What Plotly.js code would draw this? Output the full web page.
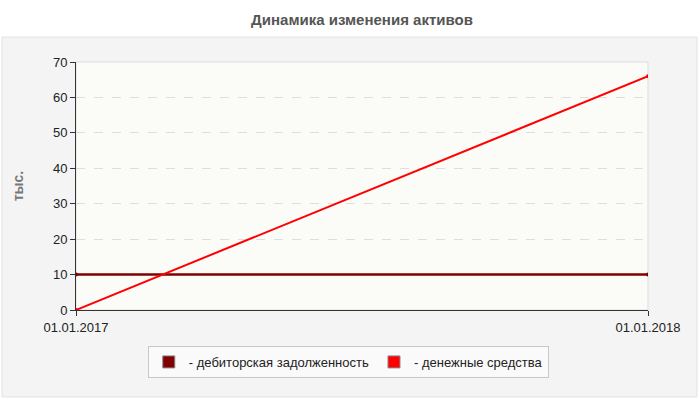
<!DOCTYPE html>
<html>
<head>
<meta charset="utf-8">
<script src="https://cdn.plot.ly/plotly-3.0.1.min.js"></script>
<style>
  body { margin: 0; background: #fff; }
  #chart { width: 700px; height: 400px; }
</style>
</head>
<body>
<div id="chart"></div>
<script>
var dates = ['2017-01-01', '2018-01-01'];
var receivables = [10, 10];
var cash = [0, 66];
var seriesNames = ['- дебиторская задолженность', '- денежные средства'];
var seriesColors = ['#800000', '#ff0000'];

var traceRec = {
    x: dates, y: receivables, mode: 'lines+markers', showlegend: false,
    line: {color: seriesColors[0], width: 2.5},
    marker: {color: seriesColors[0], size: 4}
};
var traceCash = {
    x: dates, y: cash, mode: 'lines+markers', showlegend: false,
    line: {color: seriesColors[1], width: 2},
    marker: {color: seriesColors[1], size: 4}
};
// legend only entries (filled boxes)
var legRec = {x: [null], y: [null], type: 'bar', name: seriesNames[0],
    marker: {color: seriesColors[0], line: {color: '#888', width: 1}}};
var legCash = {x: [null], y: [null], type: 'bar', name: seriesNames[1],
    marker: {color: seriesColors[1], line: {color: '#888', width: 1}}};

var layout = {
    width: 700, height: 400,
    margin: {l: 76, r: 52, t: 62, b: 90},
    paper_bgcolor: '#ffffff',
    plot_bgcolor: '#fbfbf8',
    font: {family: 'Liberation Sans, Arial, sans-serif', size: 13, color: '#222'},
    title: {text: 'Динамика изменения активов', x: 0.5, xref: 'paper',
        yref: 'container', y: 0.95, yanchor: 'middle',
        font: {size: 15, color: '#555', weight: 'bold'}},
    xaxis: {
        type: 'date', range: [dates[0], dates[1]],
        tickvals: dates, tickformat: '%d.%m.%Y',
        showgrid: false, zeroline: false,
        showline: true, linecolor: '#333', linewidth: 1,
        ticks: 'outside', ticklen: 5, tickcolor: '#333',
        tickfont: {size: 13, color: '#222'}
    },
    yaxis: {
        range: [0, 70], dtick: 10,
        showgrid: true, gridcolor: '#dedede', griddash: 'dash',
        zeroline: false,
        showline: true, linecolor: '#333', linewidth: 1,
        ticks: 'outside', ticklen: 5, tickcolor: '#333',
        tickfont: {size: 13, color: '#222'},
        title: {text: 'тыс.', standoff: 26, font: {size: 14, color: '#777', weight: 'bold'}}
    },
    legend: {
        orientation: 'h', x: 0.476, xanchor: 'center', y: -0.145, yanchor: 'top',
        bgcolor: '#fafafa', bordercolor: '#c8c8c8', borderwidth: 1,
        itemwidth: 30, tracegroupgap: 0,
        font: {size: 13, color: '#222'}
    },
    shapes: [
        {type: 'rect', xref: 'paper', yref: 'paper', layer: 'below',
         x0: -0.1294, x1: 1.0857, y0: -0.3508, y1: 1.1008,
         fillcolor: '#f4f4f4', line: {color: '#e2e2e2', width: 1}},
        {type: 'rect', xref: 'paper', yref: 'paper', layer: 'below',
         x0: 0, x1: 1, y0: 0, y1: 1,
         fillcolor: '#fbfbf8', line: {color: '#dddddd', width: 1}}
    ]
};

Plotly.newPlot('chart', [legRec, legCash, traceRec, traceCash], layout, {displayModeBar: false});
</script>
</body>
</html>
